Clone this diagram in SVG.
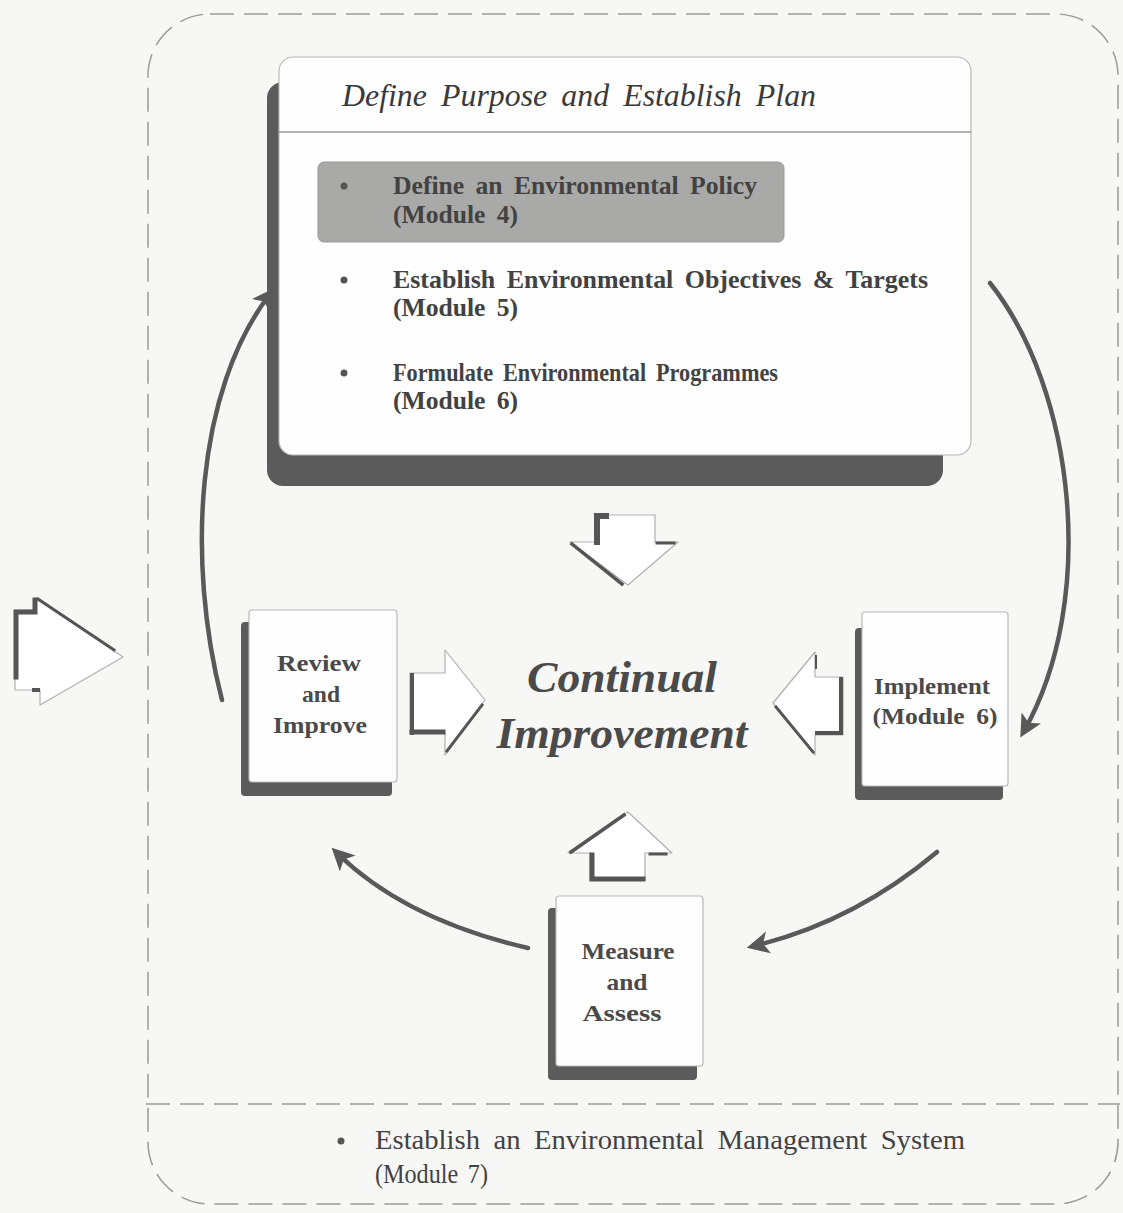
<svg xmlns="http://www.w3.org/2000/svg" width="1123" height="1213" viewBox="0 0 1123 1213">
  <defs>
    <style>
      .bg { fill: #f7f7f5; }
      .frame { fill: none; stroke: #9a9a9a; stroke-width: 1.5; stroke-dasharray: 24 10; }
      .shadow { fill: #5b5b5b; }
      .face { fill: #fefefe; stroke: #b8b8b8; stroke-width: 1.2; }
      .txt { font-family: "Liberation Serif", "Times New Roman", serif; fill: #424242; }
      .b { font-weight: bold; font-size: 26px; }
      .nb { font-weight: bold; font-size: 24px; fill: #4a4a4a; }
      .n { font-size: 27px; }
      .title { font-style: italic; font-size: 31px; fill: #3a3a3a; }
      .big { font-style: italic; font-weight: bold; font-size: 45px; fill: #4a4a4a; }
      .blk { fill: #ffffff; stroke: #b0b0b0; stroke-width: 1.2; stroke-linejoin: round; }
      .edge { fill: none; stroke: #555; stroke-linecap: square; }
      .conn { fill: none; stroke: #595959; stroke-width: 4.5; stroke-linecap: round; }
      .dot { fill: #555; }
    </style>
    <marker id="head" viewBox="0 0 12 12" refX="8" refY="6" markerWidth="5" markerHeight="5" orient="auto" markerUnits="strokeWidth">
      <path d="M0,0 L12,6 L0,12 L3,6 Z" fill="#595959"/>
    </marker>
  </defs>

  <rect class="bg" x="0" y="0" width="1123" height="1213"/>

  <!-- outer dashed system boundary and divider -->
  <g id="frame">
    <rect class="frame" x="148" y="14" width="970" height="1190" rx="62" ry="62"/>
    <line class="frame" x1="146" y1="1104" x2="1120" y2="1104"/>
  </g>

  <!-- plan panel -->
  <g id="plan">
    <rect class="shadow" x="267" y="82" width="676" height="404" rx="16"/>
    <rect class="face" x="279" y="57" width="692" height="398" rx="14"/>
    <line x1="279" y1="132" x2="971" y2="132" stroke="#9a9a9a" stroke-width="1.3"/>
    <text class="txt title" x="342" y="106" textLength="474" lengthAdjust="spacingAndGlyphs" word-spacing="6">Define Purpose and Establish Plan</text>

    <rect x="318" y="162" width="466" height="80" rx="6" fill="#a9a9a7" stroke="#9a9a9a" stroke-width="1"/>
    <circle class="dot" cx="344" cy="186" r="3.5"/>
    <text class="txt b" x="393" y="194" textLength="364" lengthAdjust="spacingAndGlyphs" word-spacing="5">Define an Environmental Policy</text>
    <text class="txt b" x="393" y="223" textLength="125" lengthAdjust="spacingAndGlyphs" word-spacing="5">(Module 4)</text>

    <circle class="dot" cx="344" cy="280" r="3.5"/>
    <text class="txt b" x="393" y="288" textLength="535" lengthAdjust="spacingAndGlyphs" word-spacing="5">Establish Environmental Objectives &amp; Targets</text>
    <text class="txt b" x="393" y="316" textLength="125" lengthAdjust="spacingAndGlyphs" word-spacing="5">(Module 5)</text>

    <circle class="dot" cx="344" cy="373" r="3.5"/>
    <text class="txt b" x="393" y="381" textLength="385" lengthAdjust="spacingAndGlyphs" word-spacing="5">Formulate Environmental Programmes</text>
    <text class="txt b" x="393" y="409" textLength="125" lengthAdjust="spacingAndGlyphs" word-spacing="5">(Module 6)</text>
  </g>

  <!-- down block arrow under the plan -->
  <g id="arrow-down">
    <polygon class="blk" points="595,515 655,515 655,542 678,542 628,585 570,542 595,542"/>
    <polyline class="edge" stroke-width="6" points="597,542 597,516 606,516"/>
    <line class="edge" stroke-width="3.5" x1="572" y1="544" x2="622" y2="584"/>
    <line class="edge" stroke-width="3" x1="657" y1="543" x2="674" y2="543"/>
  </g>

  <!-- review node -->
  <g id="review">
    <rect class="shadow" x="241" y="622" width="151" height="174" rx="4"/>
    <rect class="face" x="249" y="610" width="148" height="172" rx="3"/>
    <text class="txt nb" x="319" y="671" text-anchor="middle" textLength="84" lengthAdjust="spacingAndGlyphs">Review</text>
    <text class="txt nb" x="321" y="702" text-anchor="middle" textLength="38" lengthAdjust="spacingAndGlyphs">and</text>
    <text class="txt nb" x="320" y="733" text-anchor="middle" textLength="94" lengthAdjust="spacingAndGlyphs">Improve</text>
  </g>

  <!-- right block arrow from review -->
  <g id="arrow-review">
    <polygon class="blk" points="410,673 445,673 445,650 485,700 445,755 445,733 410,733"/>
    <line class="edge" stroke-width="4" x1="412" y1="675" x2="412" y2="733"/>
    <line class="edge" stroke-width="5" x1="412" y1="732" x2="443" y2="732"/>
    <line class="edge" stroke-width="3" x1="447" y1="751" x2="482" y2="705"/>
  </g>

  <!-- outside block arrow on the left -->
  <g id="arrow-outside">
    <polygon class="blk" points="15,610 36,610 36,598 123,657 40,705 40,690 15,690"/>
    <polyline class="edge" stroke-width="5" points="16,677 16,612 35,612 35,600"/>
    <line class="edge" stroke-width="3" x1="38" y1="599" x2="114" y2="650"/>
    <line class="edge" stroke-width="4" x1="34" y1="690" x2="38" y2="690"/>
  </g>

  <!-- central label -->
  <g id="center">
    <text class="txt big" x="622" y="692" text-anchor="middle" textLength="190" lengthAdjust="spacingAndGlyphs">Continual</text>
    <text class="txt big" x="622" y="748" text-anchor="middle" textLength="251" lengthAdjust="spacingAndGlyphs">Improvement</text>
  </g>

  <!-- left block arrow from implement -->
  <g id="arrow-implement">
    <polygon class="blk" points="843,677 815,677 815,652 773,703 815,755 815,735 843,735"/>
    <polyline class="edge" stroke-width="4" points="841,679 841,733 817,733"/>
    <line class="edge" stroke-width="3" x1="776" y1="707" x2="813" y2="752"/>
    <line class="edge" stroke-width="2" x1="816" y1="656" x2="816" y2="668"/>
  </g>

  <!-- implement node -->
  <g id="implement">
    <rect class="shadow" x="855" y="628" width="148" height="172" rx="4"/>
    <rect class="face" x="862" y="612" width="146" height="174" rx="3"/>
    <text class="txt nb" x="932" y="694" text-anchor="middle" textLength="116" lengthAdjust="spacingAndGlyphs">Implement</text>
    <text class="txt nb" x="935" y="724" text-anchor="middle" textLength="125" lengthAdjust="spacingAndGlyphs" word-spacing="5">(Module 6)</text>
  </g>

  <!-- up block arrow above measure -->
  <g id="arrow-up">
    <polygon class="blk" points="628,812 672,853 645,853 645,880 590,880 590,853 568,853"/>
    <line class="edge" stroke-width="3.5" x1="571" y1="852" x2="624" y2="815"/>
    <polyline class="edge" stroke-width="5" points="592,855 592,879 643,879"/>
    <line class="edge" stroke-width="3" x1="650" y1="854" x2="666" y2="854"/>
  </g>

  <!-- measure node -->
  <g id="measure">
    <rect class="shadow" x="548" y="908" width="149" height="172" rx="4"/>
    <rect class="face" x="556" y="896" width="147" height="170" rx="3"/>
    <text class="txt nb" x="628" y="959" text-anchor="middle" textLength="93" lengthAdjust="spacingAndGlyphs">Measure</text>
    <text class="txt nb" x="627" y="990" text-anchor="middle" textLength="41" lengthAdjust="spacingAndGlyphs">and</text>
    <text class="txt nb" x="622" y="1021" text-anchor="middle" textLength="79" lengthAdjust="spacingAndGlyphs">Assess</text>
  </g>

  <!-- cycle connectors -->
  <g id="connectors">
    <path class="conn" d="M222,700 C186,560 196,390 270,294" marker-end="url(#head)"/>
    <path class="conn" d="M990,283 C1075,390 1098,600 1024,731" marker-end="url(#head)"/>
    <path class="conn" d="M528,948 C450,930 385,900 337,853" marker-end="url(#head)"/>
    <path class="conn" d="M937,852 C880,900 820,930 754,946" marker-end="url(#head)"/>
  </g>

  <!-- system footnote -->
  <g id="system">
    <circle class="dot" cx="341" cy="1141" r="3.5"/>
    <text class="txt n" x="375" y="1149" textLength="590" lengthAdjust="spacingAndGlyphs" word-spacing="6">Establish an Environmental Management System</text>
    <text class="txt n" x="375" y="1183" textLength="113" lengthAdjust="spacingAndGlyphs" word-spacing="4">(Module 7)</text>
  </g>
</svg>
